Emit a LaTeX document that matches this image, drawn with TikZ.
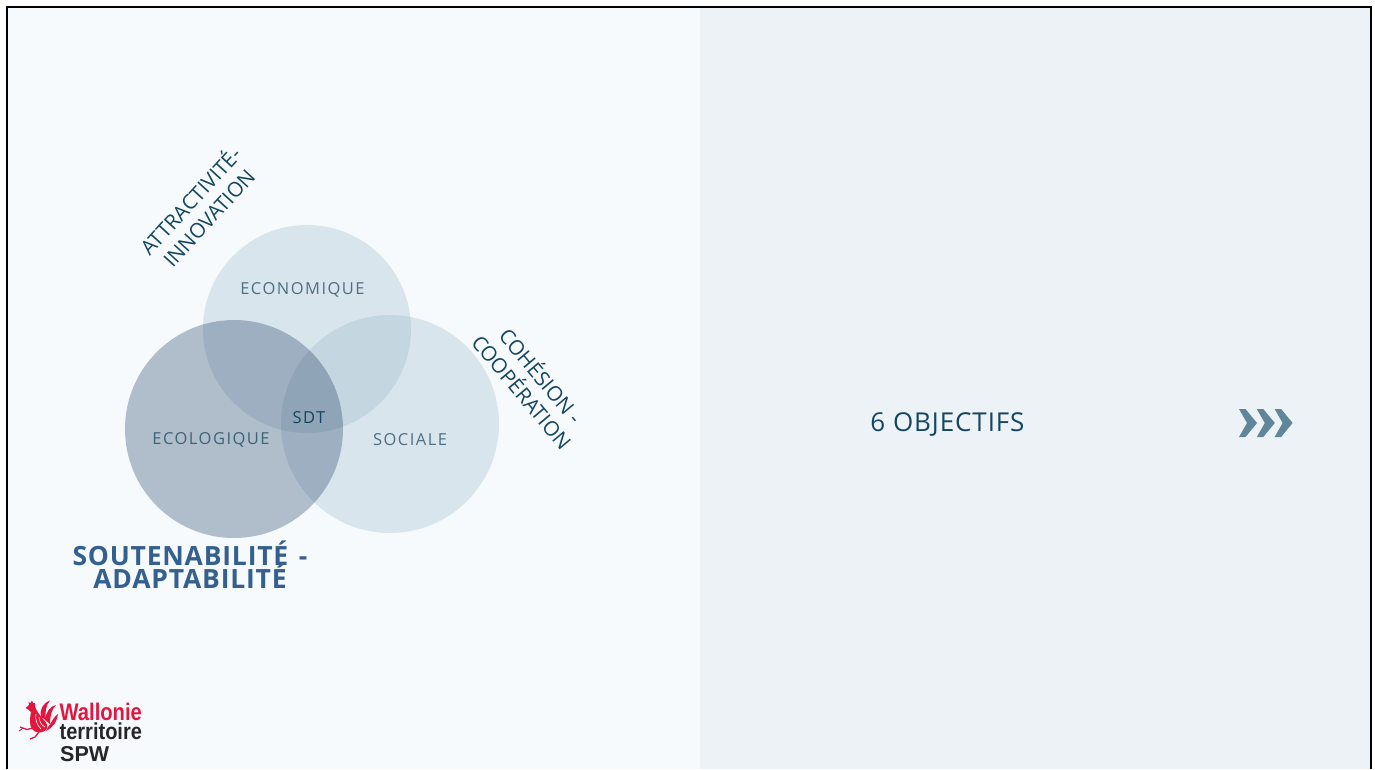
\documentclass[tikz,border=0pt]{standalone}
\usepackage{fontspec}
\setmainfont{Open Sans}
\newfontfamily\logofont{Liberation Sans}
\definecolor{panelL}{HTML}{F6FAFD}
\definecolor{panelR}{HTML}{EDF2F6}
\definecolor{pale}{RGB}{134,170,186}
\definecolor{deep}{RGB}{46,76,111}
\definecolor{softtxt}{HTML}{4F6F80}
\definecolor{darktxt}{HTML}{14465F}
\definecolor{bluetxt}{HTML}{34608F}
\definecolor{chev}{HTML}{5F8799}
\definecolor{wred}{HTML}{E2173F}
\tikzset{
  palecirc/.style={circle,inner sep=0pt,fill=pale,fill opacity=.25,text opacity=1},
  deepcirc/.style={circle,inner sep=0pt,fill=deep,fill opacity=.35,text opacity=1},
  venntxt/.style={inner sep=0pt,text=softtxt,font=\fontsize{16.5}{20}\selectfont\addfontfeature{LetterSpace=9}},
  rottxt/.style={inner sep=0pt,align=center,text=darktxt,font=\fontsize{20.5}{25}\selectfont},
  boldtxt/.style={inner sep=0pt,text=bluetxt,font=\fontsize{26.5}{27}\selectfont\bfseries\addfontfeature{LetterSpace=3}},
  chevron/.style={fill=chev,draw=none},
  logotxt/.style={inner sep=0pt,anchor=base west},
}
\begin{document}
\begin{tikzpicture}[x=1pt,y=-1pt]
\useasboundingbox (0,0) rectangle (1375,769);
\fill[white] (0,0) rectangle (1375,769);
\fill[panelL] (7,7) rectangle (700,769);
\fill[panelR] (700,7) rectangle (1371,769);
\draw[black,line width=2.6pt] (7,769) -- (7,7) -- (1371,7) -- (1371,769);

\node[palecirc,minimum size=208pt] (eco) at (307,329) {};
\node[palecirc,minimum size=218pt] (soc) at (390,424) {};
\node[deepcirc,minimum size=218pt] (ecl) at (234,429) {};

\node[venntxt] (tE) at (302.5,289.5) {ECONOMIQUE};
\node[venntxt,text=softtxt!70!darktxt] (tL) at (211,439.5) {ECOLOGIQUE};
\node[venntxt] (tS) at (410,439.5) {SOCIALE};
\node[venntxt,text=darktxt] (tD) at (309,418) {SDT};

\node[rottxt,rotate=47.5] (att) at (198.5,208.5) {ATTRACTIVITÉ-\\INNOVATION};
\node[rottxt,rotate=-50] (coh) at (532.5,383) {COHÉSION -\\COOPÉRATION};

\node[boldtxt] (sou) at (190,553.5) {SOUTENABILITÉ\hspace{3pt} -};
\node[boldtxt] (ada) at (190,576.5) {ADAPTABILITÉ};

\node[inner sep=0pt,text=darktxt,font=\fontsize{26}{28}\selectfont\addfontfeature{LetterSpace=3.5}] (obj) at (947.5,425) {6 OBJECTIFS};

\foreach \d in {0,17.8,35.6}{
  \fill[chevron,xshift=\d pt] (1239,409) -- (1245.5,409) -- (1257,423) -- (1245.5,437) -- (1239,437) -- (1247,423) -- cycle;
}

% rooster
\begin{scope}[wred]
  \fill (25.5,708) -- (29,705) -- (28.5,702) -- (30.5,703) -- (32,700.5) -- (33,703) -- (35,703) -- (35,706)
     .. controls (36,711) and (40,715) .. (43,719) .. controls (47,723) and (49,727) .. (46,730)
     .. controls (42,734) and (35,733) .. (32,729) .. controls (29,725) and (30,717) .. (31,712)
     -- (29,710) -- cycle;
  \fill (41,717) .. controls (39,710) and (43,703) .. (50,700.5) .. controls (46,705) and (45,711) .. (46,720) -- cycle;
  \fill (45,720) .. controls (46,712) and (50,706) .. (56,705) .. controls (52,709) and (50,715) .. (50,724) -- cycle;
  \fill (48,727) .. controls (52,722) and (54,716) .. (58,714) .. controls (57,721) and (54,727) .. (46,731) -- cycle;
  \draw[line width=1.3pt] (33,728) -- (27,729.5) -- (20,727);
  \draw[line width=1.3pt] (39,732) -- (35,737) -- (30,739);
  \draw[line width=.9pt] (23,728) -- (19,731);
  \draw[panelL,line width=.6pt] (36,714) .. controls (35,720) and (37,725) .. (41,729);
  \draw[panelL,line width=.6pt] (39,717) .. controls (39,721) and (41,725) .. (45,727);
\end{scope}
\node[logotxt,xscale=.84,text=wred,font=\logofont\bfseries\fontsize{24}{24}\selectfont] (w1) at (59.5,720) {Wallonie};
\node[logotxt,xscale=.87,text=black!85,font=\logofont\bfseries\fontsize{23}{24}\selectfont] (w2) at (59.5,739) {territoire};
\node[logotxt,text=black!85,font=\logofont\bfseries\fontsize{21.5}{24}\selectfont] (w3) at (60,761) {SPW};
\end{tikzpicture}
\end{document}
